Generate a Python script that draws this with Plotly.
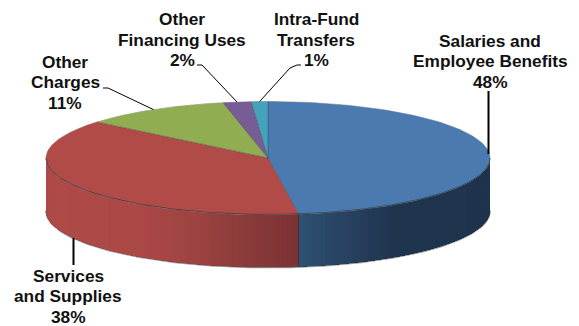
import numpy as np
import plotly.graph_objects as go

# Data
categories = [["Salaries and", "Employee Benefits"], ["Services", "and Supplies"], ["Other", "Charges"],
              ["Other", "Financing Uses"], ["Intra-Fund", "Transfers"]]
values = [47.8, 38.2, 10.75, 2.05, 1.2]
shown_percent = ["48%", "38%", "11%", "2%", "1%"]

# Styles and layout
top_colors = ["#4a7ab0", "#b04b48", "#90ad52", "#775c96", "#45a2bb"]
W, H = 579, 326
CX, CY, RX, RY, DEPTH = 268.0, 158.0, 222.0, 56.5, 52.5
label_xy = [(490, 61), (68, 296), (65, 82), (182, 39.5), (316, 39.5)]
LINE_GAP = 20.5
# leader routes after the slice anchor, in page pixels
leader_routes = [[(488.5, 91)], [(73.5, 265)], [(108, 88), (103, 88)], [(202, 65), (197, 65)],
                 [(290, 68), (297, 65), (301, 65)]]
# side-wall shading: (x position, colour)
side_stops = {
    0: [(299, (47, 80, 114)), (345, (40, 66, 97)), (395, (31, 53, 78)), (491, (31, 52, 76))],
    1: [(46, (174, 74, 71)), (130, (172, 73, 70)), (190, (160, 68, 66)), (240, (140, 60, 58)), (299, (122, 50, 50))],
}


def ex(t):
    return CX + RX * np.sin(t)


def ey(t, dz=0.0):
    return CY - RY * np.cos(t) + dz


def rgb(c):
    return "rgb(%d,%d,%d)" % tuple(int(round(v)) for v in c)


def shade(stops, x):
    xs = [s[0] for s in stops]
    return [np.interp(x, xs, [s[1][k] for s in stops]) for k in range(3)]


fractions = np.array(values) / sum(values)
edges = np.concatenate([[0], np.cumsum(fractions)]) * 2 * np.pi
mids = (edges[:-1] + edges[1:]) / 2

fig = go.Figure()


def poly(xs, ys, fill, line=None, width=0.0):
    fig.add_trace(go.Scatter(x=list(xs), y=list(ys), mode="lines", fill="toself", fillcolor=fill,
                             line=dict(color=line or fill, width=width), hoverinfo="skip", showlegend=False))


def stroke(xs, ys, color, width):
    fig.add_trace(go.Scatter(x=list(xs), y=list(ys), mode="lines", line=dict(color=color, width=width),
                             hoverinfo="skip", showlegend=False))


# soft shadow below the wall
t = np.linspace(np.pi / 2, 3 * np.pi / 2, 200)
stroke(ex(t), ey(t, DEPTH + 0.8), "#9a9a9a", 1.4)
stroke(ex(t), ey(t, DEPTH), "#3a3030", 0.8)

# side wall: each band runs to the slice's far end, so the next one overlaps it and no seams show
for i in (0, 1):
    a0 = max(edges[i], np.pi / 2)
    a1 = min(edges[i + 1], 3 * np.pi / 2)
    cuts = np.linspace(a0, a1, 70)
    for p, q in zip(cuts[:-1], cuts[1:]):
        c = rgb(shade(side_stops[i], ex((p + q) / 2)))
        u = np.linspace(p, a1, 60)
        xs = np.concatenate([ex(u), ex(u[::-1]), [ex(u[0])]])
        ys = np.concatenate([ey(u), ey(u[::-1], DEPTH), [ey(u[0])]])
        poly(xs, ys, c)

# soft outline round the top face
t = np.linspace(0, 2 * np.pi, 400)
stroke(ex(t), ey(t), "#b5b5b5", 1.0)

# top faces
for i, col in enumerate(top_colors):
    u = np.linspace(edges[i], edges[i + 1], 160)
    xs = np.concatenate([[CX], ex(u), [CX]])
    ys = np.concatenate([[CY], ey(u), [CY]])
    poly(xs, ys, col)

# dark seams between slices
for e in edges[:-1]:
    stroke([CX, ex(e)], [CY, ey(e)], "rgba(40,45,60,0.55)", 0.7)

# dark rim where the top face meets the wall
t = np.linspace(np.pi / 2, 3 * np.pi / 2, 200)
stroke(ex(t), ey(t), "rgba(25,30,40,0.75)", 0.8)

# vertical seam on the wall between blue and red
stroke([ex(edges[1]), ex(edges[1])], [ey(edges[1]), ey(edges[1], DEPTH)], "rgba(30,30,40,0.5)", 0.7)

# leader lines start at each slice's mid-angle; the first two run straight up or down
for i, route in enumerate(leader_routes):
    dz = DEPTH if i == 1 else 0
    start_x = route[0][0] if i < 2 else ex(mids[i])
    xs = [start_x] + [p[0] for p in route]
    ys = [ey(mids[i], dz)] + [p[1] for p in route]
    w = 2 if i < 2 else 1
    stroke(xs, ys, "#000000", w)

for name, pct, (lx, ly) in zip(categories, shown_percent, label_xy):
    for k, line in enumerate(name + [pct]):
        fig.add_annotation(x=lx, y=ly + (k - 1) * LINE_GAP, text=line, showarrow=False,
                           xanchor="center", yanchor="middle", align="center",
                           font=dict(family="Liberation Sans, Arial, sans-serif", size=17.3, color="#111111",
                                     weight="bold"))

fig.update_layout(width=W, height=H, margin=dict(l=0, r=0, t=0, b=0), paper_bgcolor="white", plot_bgcolor="white",
                  showlegend=False,
                  xaxis=dict(range=[0, W], visible=False, fixedrange=True),
                  yaxis=dict(range=[H, 0], visible=False, fixedrange=True))
fig.write_html("out.html", config={"displayModeBar": False},
               post_script="document.body.style.margin='0';document.documentElement.style.overflow='hidden';")
